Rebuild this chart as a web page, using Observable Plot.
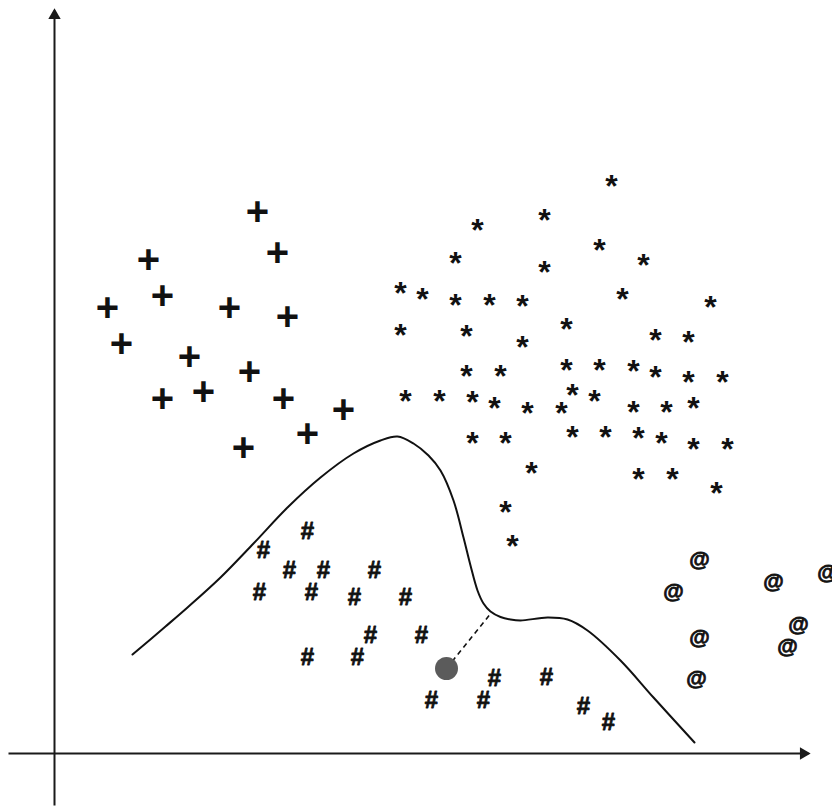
<!DOCTYPE html>
<html>
<head>
<meta charset="utf-8">
<script src="https://cdn.jsdelivr.net/npm/d3@7"></script>
<script src="https://cdn.jsdelivr.net/npm/@observablehq/plot@0.6"></script>
<style>
  html, body { margin: 0; padding: 0; background: #fff; }
  #chart svg { display: block; }
</style>
</head>
<body>
<div id="chart"></div>
<script>
// Class "+" points
const plusX = [257, 277, 148, 162, 107, 229, 287, 121, 189, 249, 162, 203, 283, 343, 307, 243];
const plusY = [211, 252, 259, 295, 307, 307, 316, 343, 356, 371, 398, 391, 398, 409, 433, 447];

// Class "*" points
const starX = [611, 544, 477, 599, 455, 643, 544, 400, 422, 455, 489, 522, 622, 710, 400, 466, 522, 566, 655, 688,
               466, 500, 566, 599, 633, 655, 688, 722, 405, 439, 472, 494, 527, 561, 572, 594, 633, 666, 693,
               472, 505, 572, 605, 638, 661, 693, 727, 531, 638, 672, 716, 505, 512];
const starY = [182, 216, 226, 246, 259, 261, 268, 289, 295, 301, 301, 302, 295, 303, 331, 332, 343, 325, 336, 338,
               372, 372, 366, 366, 367, 373, 378, 378, 397, 397, 398, 404, 409, 409, 391, 397, 408, 408, 404,
               439, 439, 433, 433, 434, 439, 445, 445, 469, 475, 475, 489, 508, 542];

// Class "#" points
const hashX = [307, 263, 289, 323, 374, 259, 311, 354, 405, 370, 421, 307, 357, 494, 431, 483, 546, 583, 608];
const hashY = [531, 550, 570, 570, 570, 592, 592, 597, 597, 635, 635, 657, 657, 678, 700, 700, 677, 706, 722];

// Class "@" points
const atX = [699, 673, 773, 827, 798, 787, 699, 696];
const atY = [560, 592, 582, 573, 625, 647, 638, 679];

// Decision boundary curve
const curveX = [132, 165, 187, 220, 253, 287, 320, 353, 380, 397, 413, 428, 440, 453, 463, 470, 477, 483, 490, 500, 510, 520, 547, 567, 587, 620, 653, 694];
const curveY = [654, 626, 607, 577, 543, 507, 477, 453, 440, 436, 443, 455, 470, 500, 537, 565, 590, 603, 611, 616.5, 619, 620, 617, 619, 630, 660, 697, 742];

// Query point and its projection on the boundary
const queryX = [446], queryY = [668];
const footX = [491], footY = [612];

// Axes (x axis at y=753 from 8 to 808; y axis at x=54 from 805 to 10)
const xAxisFrom = [8], xAxisTo = [808], xAxisAt = [753];
const yAxisFrom = [805], yAxisTo = [10], yAxisAt = [54];

const toPts = (xs, ys) => xs.map((x, i) => ({x, y: ys[i]}));
const plus = toPts(plusX, plusY);
const stars = toPts(starX, starY);
const hashes = toPts(hashX, hashY);
const ats = toPts(atX, atY);
const curve = toPts(curveX, curveY);
const query = toPts(queryX, queryY);
const link = queryX.map((x, i) => ({x1: x, y1: queryY[i], x2: footX[i], y2: footY[i]}));
const xAxis = [{x1: xAxisFrom[0], x2: xAxisTo[0], y: xAxisAt[0]}];
const yAxis = [{y1: yAxisFrom[0], y2: yAxisTo[0], x: yAxisAt[0]}];

const font = "Liberation Sans, Arial, sans-serif";
const ink = "#111";

const chart = Plot.plot({
  width: 832,
  height: 807,
  margin: 0,
  x: {domain: [0, 832], range: [0, 832], axis: null},
  y: {domain: [0, 807], range: [0, 807], axis: null},
  style: {background: "#fff"},
  marks: [
    // axes
    Plot.link(xAxis, {x1: "x1", x2: "x2", y1: "y", y2: "y", stroke: "#1a1a1a", strokeWidth: 2}),
    Plot.link(yAxis, {x1: "x", x2: "x", y1: "y1", y2: "y2", stroke: "#1a1a1a", strokeWidth: 2}),
    Plot.dot(xAxis, {x: "x2", y: "y", symbol: "triangle", r: 4.6, rotate: 90, dx: -5, fill: "#1a1a1a", stroke: "none"}),
    Plot.dot(yAxis, {x: "x", y: "y2", symbol: "triangle", r: 4.6, dy: 5, fill: "#1a1a1a", stroke: "none"}),
    // boundary curve
    Plot.line(curve, {x: "x", y: "y", curve: "catmull-rom", stroke: ink, strokeWidth: 2}),
    // dashed link
    Plot.link(link, {x1: "x1", y1: "y1", x2: "x2", y2: "y2", stroke: ink, strokeWidth: 1.6, strokeDasharray: "5,4"}),
    // classes
    Plot.text(plus, {x: "x", y: "y", text: () => "+", fontSize: 40, fontWeight: "bold", fontFamily: font, fill: ink, dy: 1}),
    Plot.text(stars, {x: "x", y: "y", text: () => "*", fontSize: 32, fontWeight: "bold", fontFamily: font, fill: ink, dy: 4}),
    Plot.text(hashes, {x: "x", y: "y", text: () => "#", fontSize: 24, fontWeight: "bold", fontFamily: font, fill: ink, stroke: ink, strokeWidth: 0.8, dy: 0}),
    Plot.text(ats, {x: "x", y: "y", text: () => "@", fontSize: 21, fontWeight: "bold", fontFamily: font, fill: ink, stroke: ink, strokeWidth: 0.8, dy: -1}),
    // query point
    Plot.dot(query, {x: "x", y: "y", r: 11.5, fill: "#5b5b5b", stroke: "none"})
  ]
});
document.getElementById("chart").appendChild(chart);
</script>
</body>
</html>
